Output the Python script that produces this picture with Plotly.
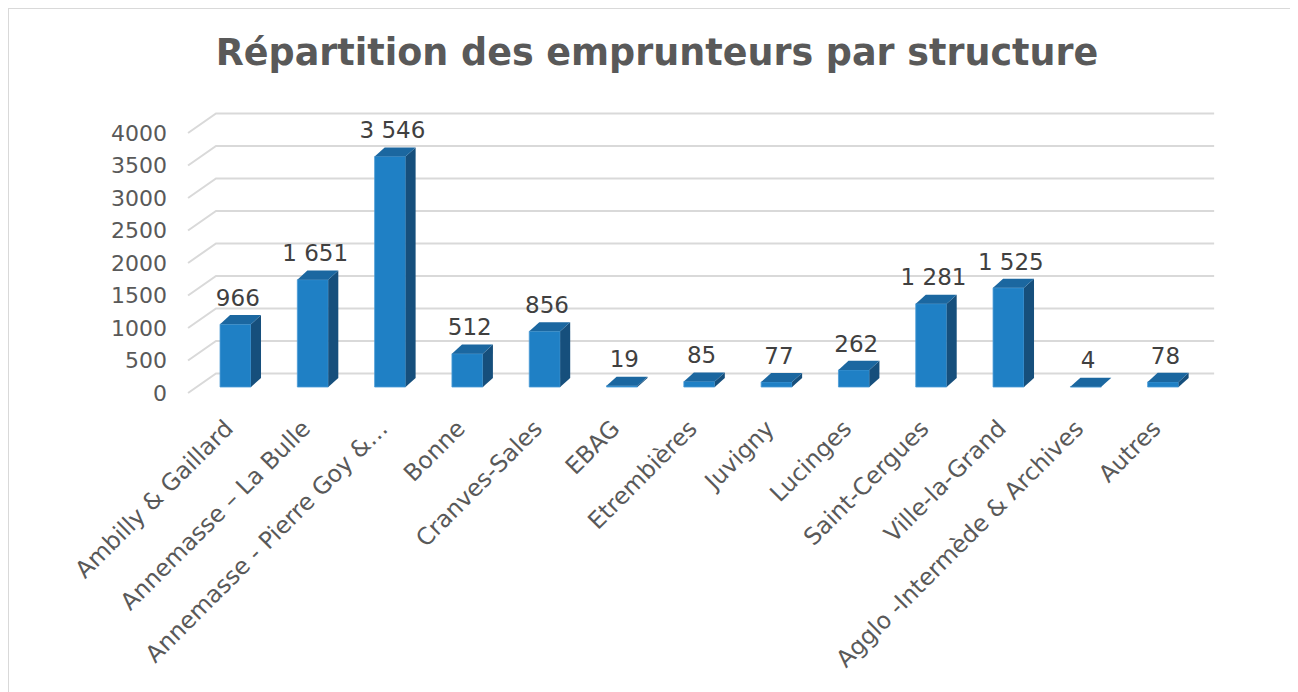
import plotly.graph_objects as go

# data
structures = ["Ambilly & Gaillard", "Annemasse – La Bulle", "Annemasse - Pierre Goy &…",
              "Bonne", "Cranves-Sales", "EBAG", "Etrembières", "Juvigny", "Lucinges",
              "Saint-Cergues", "Ville-la-Grand", "Agglo -Intermède & Archives", "Autres"]
emprunteurs = [966, 1651, 3546, 512, 856, 19, 85, 77, 262, 1281, 1525, 4, 78]
labels = ["966", "1 651", "3 546", "512", "856", "19", "85", "77", "262",
          "1 281", "1 525", "4", "78"]
y_ticks = [0, 500, 1000, 1500, 2000, 2500, 3000, 3500, 4000]

FRONT = "#1f80c5"
SIDE = "#164f7c"
TOP = "#1b67a0"
GRID = "#d9d9d9"
TXT = "#595959"

bw = 0.40        # bar front width (category units)
ddx = 0.13       # depth offset x
ddy = 140        # depth offset y (value units)
front_off = -92  # where the front edge of the floor sits
back_off = 208   # where the back wall sits

xs = list(range(len(structures)))
fig = go.Figure()

# gridlines on the "wall" (drawn below traces)
x_front, x_back, x_end = -0.614, -0.252, 12.66
for t in y_ticks:
    fig.add_shape(type="path", xref="x", yref="y", layer="below",
                  path="M %f,%f L %f,%f L %f,%f" % (x_front, t + front_off, x_back, t + back_off,
                                                    x_end, t + back_off),
                  line=dict(color=GRID, width=2))

fig.add_trace(go.Bar(x=xs, y=emprunteurs, width=bw,
                     marker=dict(color=FRONT, line=dict(width=0.8, color="#4a9ad6")),
                     hoverinfo="x+y"))

# side and top faces for the 3D look
for i, v in zip(xs, emprunteurs):
    r = i + bw / 2
    l = i - bw / 2
    fig.add_trace(go.Scatter(x=[r, r + ddx, r + ddx, r, r], y=[0, ddy, v + ddy, v, 0],
                             fill="toself", fillcolor=SIDE, mode="lines",
                             line=dict(width=0, color=SIDE), hoverinfo="skip"))
    fig.add_trace(go.Scatter(x=[l, l + ddx, r + ddx, r, l], y=[v, v + ddy, v + ddy, v, v],
                             fill="toself", fillcolor=TOP, mode="lines",
                             line=dict(width=0, color=TOP), hoverinfo="skip"))

fig.add_trace(go.Scatter(x=[i + 0.03 for i in xs], y=[v + 370 for v in emprunteurs],
                         mode="text", text=labels, textposition="middle center",
                         textfont=dict(family="DejaVu Sans", size=23, color="#404040"),
                         hoverinfo="skip"))

# outer chart border
fig.add_shape(type="rect", xref="paper", yref="paper", x0=-0.1654, x1=1.0712, y0=-1.04, y1=1.312,
              line=dict(color=GRID, width=2), layer="below")

fig.update_layout(
    width=1298, height=692,
    margin=dict(l=172, r=86, t=92, b=305, autoexpand=False),
    paper_bgcolor="white", plot_bgcolor="white",
    showlegend=False,
    title=dict(text="<b>Répartition des emprunteurs par structure</b>", x=0.5, xref="container",
               y=1 - 44 / 692, yanchor="middle",
               font=dict(family="DejaVu Sans", size=36.5, color=TXT)),
    xaxis=dict(range=[-0.718, 12.736], tickmode="array", tickvals=[i - 0.12 for i in xs],
               ticktext=structures,
               tickangle=-45, showgrid=False, zeroline=False, showline=False, ticks="",
               ticklabelstandoff=14,
               tickfont=dict(family="DejaVu Sans", size=23.5, color=TXT), automargin=False),
    yaxis=dict(range=[-123, 4415], tickmode="array", tickvals=[t + front_off for t in y_ticks],
               ticktext=[str(t) for t in y_ticks], showgrid=False, zeroline=False,
               showline=False, ticks="", ticklabelstandoff=12,
               tickfont=dict(family="DejaVu Sans", size=22, color=TXT), automargin=False),
)

fig.write_html("out.html")
